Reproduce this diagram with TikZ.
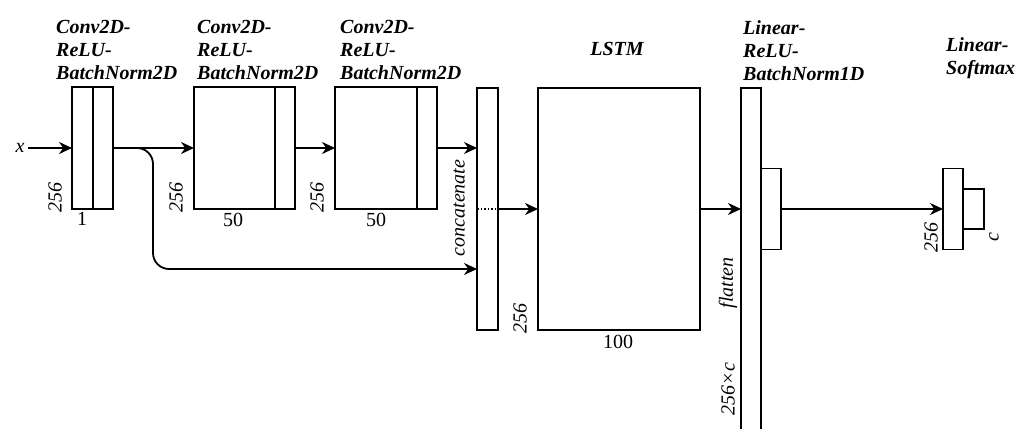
\documentclass[tikz,border=0pt]{standalone}
\usepackage{fontspec}
\setmainfont{Liberation Serif}
\usepackage{tikz}
\usetikzlibrary{arrows.meta,positioning}

\begin{document}
\begin{tikzpicture}[
      x=1pt, y=-1pt,
      font=\fontsize{20}{23}\selectfont,
      blk/.style={draw, line width=1.8pt, inner sep=0pt, outer sep=0pt},
      ttl/.style={font=\fontsize{20}{23}\selectfont\bfseries\itshape,
                  align=left, anchor=north west, inner sep=0pt},
      dim/.style={font=\fontsize{20}{23}\selectfont\itshape, rotate=90,
                  inner sep=0pt},
      num/.style={inner sep=0pt},
      arr/.style={-{Stealth[length=13pt, width=12pt]}, line width=1.8pt}
    ]
    \useasboundingbox (0,0) rectangle (1016,428);

    % conv blocks
    \node[blk, minimum width=21pt, minimum height=122pt] (c1a) at (82.5,148) {};
    \node[blk, minimum width=20pt, minimum height=122pt] (c1b) at (103,148) {};
    \node[blk, minimum width=81pt, minimum height=122pt] (c2a) at (234.5,148) {};
    \node[blk, minimum width=20pt, minimum height=122pt] (c2b) at (285,148) {};
    \node[blk, minimum width=82pt, minimum height=122pt] (c3a) at (376,148) {};
    \node[blk, minimum width=20pt, minimum height=122pt] (c3b) at (427,148) {};

    % concatenation and lstm
    \node[blk, minimum width=21pt, minimum height=242pt] (cat) at (487.5,209) {};
    \node[blk, minimum width=162pt, minimum height=242pt] (lstm) at (619,209) {};

    % dense head
    \node[blk, minimum width=20pt, minimum height=362pt] (fc1a) at (751,269) {};
    \node[blk, minimum width=20pt, minimum height=81pt] (fc1b) at (771,209) {};
    \node[blk, minimum width=20pt, minimum height=81pt] (fc2a) at (953,209) {};
    \node[blk, minimum width=21pt, minimum height=40pt] (fc2b) at (973.5,209) {};

    \node (in) at (20,148) {\itshape x};

    \foreach \a/\b in {in/c1a, c1b/c2a, c2b/c3a, cat/lstm, fc1b/fc2a}
      \draw[arr] (\a) -- (\b);
    \draw[arr] (c3b.east) -- (c3b.east -| cat.west);
    \draw[arr] (lstm.east) -- (lstm.east -| fc1a.west);

    % skip connection into the concatenation
    \coordinate (bend) at (153,269);
    \draw[arr, rounded corners=16pt] (c1b.east) -| (bend) -- (bend -| cat.west);
    \draw[dotted, line width=1.5pt] (cat.west) -- (cat.east);

    % layer titles
    \node[ttl] (t1) at (56,20) {Conv2D-\\ReLU-\\BatchNorm2D};
    \node[ttl] (t2) at (197,20) {Conv2D-\\ReLU-\\BatchNorm2D};
    \node[ttl] (t3) at (340,20) {Conv2D-\\ReLU-\\BatchNorm2D};
    \node[ttl, anchor=north] (t4) at (617,42) {LSTM};
    \node[ttl] (t5) at (743,20) {Linear-\\ReLU-\\BatchNorm1D};
    \node[ttl] (t6) at (946,37) {Linear-\\Softmax};

    % sizes
    \node[dim] (h1) at (55,197) {256};
    \node[dim] (h2) at (176,197) {256};
    \node[dim] (h3) at (317,197) {256};
    \node[dim] (h4) at (520,318) {256};
    \node[dim] (h5) at (931,237) {256};
    \node[num] (w1) at (82,219) {1};
    \node[num] (w2) at (233,220) {50};
    \node[num] (w3) at (376,220) {50};
    \node[num] (w4) at (618,342) {100};
    \node[dim] (cc) at (459,208) {concatenate};
    \node[dim] (fl) at (728,283) {flatten};
    \node[dim] (hc) at (728,389) {256×c};
    \node[dim] (oc) at (994,237) {c};
  \end{tikzpicture}
\end{document}
